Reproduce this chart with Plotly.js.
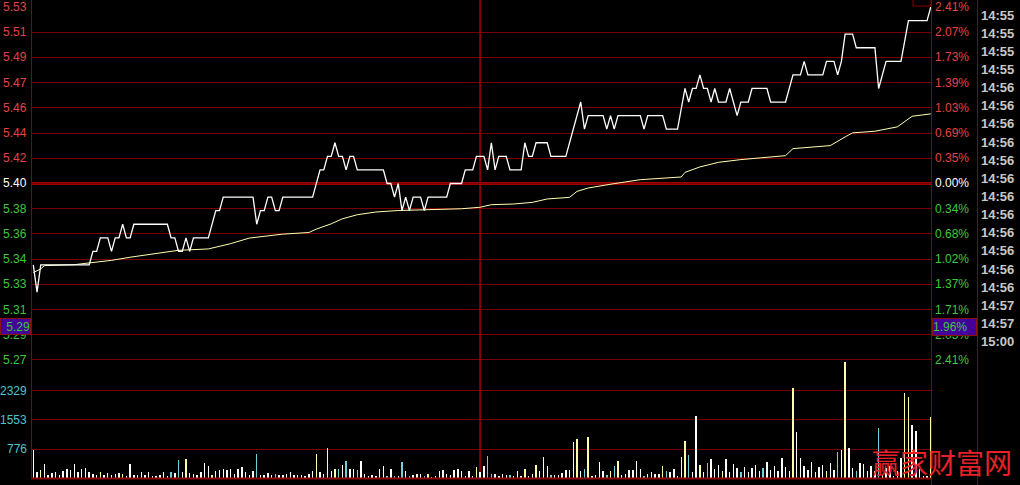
<!DOCTYPE html>
<html><head><meta charset="utf-8">
<script src="https://cdn.plot.ly/plotly-3.0.1.min.js"></script>
<style>html,body{margin:0;padding:0;background:#000;}#chart{width:1020px;height:485px;}</style>
</head><body><div id="chart"></div>
<script>
// ---------- DATA ----------
// minute index (0 = 09:30 ... 120 = 11:30/13:00 ... 241 = 15:00)
const priceT = [0,1,2,15,16,17,18,20,21,22,23,24,25,26,27,36,37,38,39,40,41,42,43,47,49,50,51,59,60,61,62,63,64,65,66,67,75,76,77,78,79,80,81,82,83,84,85,86,87,94,95,96,97,98,99,100,101,102,104,105,106,111,112,115,116,118,119,121,122,123,124,125,127,128,131,132,133,134,135,138,139,143,145,147,148,149,153,154,155,156,157,163,164,165,169,170,173,175,176,177,178,179,180,181,182,183,184,186,187,188,189,190,192,193,197,198,202,204,206,207,208,212,213,215,216,217,218,220,221,226,227,229,233,235,240,241];
const priceV = [5.34,5.32,5.34,5.34,5.35,5.35,5.36,5.36,5.35,5.36,5.36,5.37,5.36,5.36,5.37,5.37,5.36,5.36,5.35,5.35,5.36,5.35,5.36,5.36,5.38,5.38,5.39,5.39,5.37,5.38,5.38,5.39,5.39,5.38,5.38,5.39,5.39,5.40,5.41,5.41,5.42,5.42,5.43,5.42,5.42,5.41,5.42,5.42,5.41,5.41,5.40,5.40,5.39,5.40,5.38,5.39,5.38,5.39,5.39,5.38,5.39,5.39,5.40,5.40,5.41,5.41,5.42,5.42,5.41,5.43,5.41,5.42,5.42,5.41,5.41,5.43,5.42,5.42,5.43,5.43,5.42,5.42,5.44,5.46,5.44,5.45,5.45,5.44,5.45,5.44,5.45,5.45,5.44,5.45,5.45,5.44,5.44,5.47,5.46,5.47,5.47,5.48,5.47,5.47,5.46,5.47,5.46,5.46,5.47,5.46,5.45,5.46,5.46,5.47,5.47,5.46,5.46,5.48,5.48,5.49,5.48,5.48,5.49,5.49,5.48,5.49,5.51,5.51,5.50,5.50,5.47,5.49,5.49,5.52,5.52,5.53];
const avgT = [0,2,3,11,15,21,26,35,39,47,53,58,67,74,76,80,83,87,92,98,108,115,120,123,129,134,138,144,146,149,156,163,174,175,179,184,190,195,202,204,214,218,220,226,232,236,241];
const avgV = [5.3344,5.3371,5.3395,5.3402,5.3415,5.3434,5.3457,5.3489,5.3508,5.3518,5.3557,5.3598,5.3627,5.3639,5.3664,5.3703,5.3740,5.3770,5.3790,5.3801,5.3807,5.3814,5.3825,5.3844,5.3849,5.3861,5.3886,5.3898,5.3942,5.3967,5.3999,5.4028,5.4048,5.4082,5.4122,5.4156,5.4176,5.4190,5.4205,5.4257,5.4279,5.4343,5.4373,5.4385,5.4417,5.4495,5.4513];
const volValues = [
 739,161,223,384,89,134,161,89,178,250,
 205,384,152,250,277,161,107,89,161,89,
 134,89,116,134,107,45,384,71,89,161,
 89,161,62,62,89,161,62,152,134,491,
 161,518,134,107,71,161,402,330,89,196,
 223,241,205,250,116,241,294,161,89,196,
 651,89,89,134,89,107,71,71,107,161,
 71,89,89,62,107,178,651,161,116,803,
 196,250,250,357,446,250,250,223,464,116,
 62,89,62,250,330,62,250,62,62,419,
 178,62,89,116,116,62,116,40,62,178,
 223,116,89,223,250,196,62,178,62,286,
 150,312,580,116,116,62,116,89,89,62,
 196,62,250,62,116,357,196,553,312,89,
 89,89,134,205,223,955,1053,196,250,1089,
 62,89,419,178,89,196,312,446,89,116,
 205,223,446,250,62,116,152,116,116,330,
 196,161,250,62,553,999,625,152,1669,357,
 150,400,500,250,350,200,500,160,380,260,
 160,300,150,280,350,200,280,420,220,320,
 180,540,300,200,2400,1230,540,330,220,430,
 160,300,357,196,402,205,705,741,3105,803,
 268,196,402,375,178,312,178,1339,116,268,
 330,62,178,535,2275,2168,1428,1250,241,60,
 60,1633];
const volKinds = [
 'w','w','y','w','w','w','w','w','w','w',
 'w','w','w','w','w','w','w','w','y','w',
 'w','w','w','w','y','w','w','w','w','w',
 'w','w','w','w','w','w','w','c','w','c',
 'w','y','w','y','w','w','w','w','y','w',
 'w','w','w','w','w','w','w','w','w','w',
 'c','w','w','w','w','c','w','w','w','w',
 'w','w','w','w','w','w','y','w','y','y',
 'w','y','c','w','c','w','w','c','w','w',
 'w','w','w','w','w','c','w','c','w','c',
 'w','c','w','w','w','c','y','w','w','w',
 'w','w','w','w','w','w','w','w','w','y',
 'w','w','c','c','w','w','w','w','c','w',
 'w','w','y','w','w','y','w','w','w','c',
 'w','w','w','w','w','y','y','w','c','y',
 'w','w','w','w','c','y','c','y','w','w',
 'w','w','w','w','c','w','w','w','w','y',
 'c','w','w','w','y','y','c','w','w','y',
 'w','c','w','w','w','y','w','w','w','w',
 'c','w','w','w','w','w','c','w','w','w',
 'w','w','w','w','y','w','w','w','w','w',
 'w','w','w','y','w','w','c','w','y','w',
 'w','c','w','w','w','w','w','c','y','w',
 'w','w','w','w','y','y','w','w','w','w',
 'w','y'];
const prevClose = 5.40;
const priceTickLabels = ['5.53','5.51','5.49','5.47','5.46','5.44','5.42','5.40','5.38','5.36','5.34','5.33','5.31','5.29','5.27'];
const pctTickLabels = ['2.41%','2.07%','1.73%','1.39%','1.03%','0.69%','0.35%','0.00%','0.34%','0.68%','1.02%','1.37%','1.71%','2.05%','2.41%'];
const volTickVals = [776,1553,2329];
const volTickLabels = ['776','1553','2329'];
const tradeTimes = ['14:55','14:55','14:55','14:55','14:56','14:56','14:56','14:56','14:56','14:56','14:56','14:56','14:56','14:56','14:56','14:56','14:57','14:57','15:00'];
const cursorPriceLabel = '5.29';
const cursorPctLabel = '1.96%';
const watermark = '赢家财富网';

// ---------- STYLE ----------
const W = 1020, H = 485;
const py = p => 1 - p / H;   // pixel row -> paper y
const px = p => p / W;       // pixel col -> paper x
const GRID = '#7a0000';
const RED = '#e04444', GREEN = '#3cc83c', CYAN = '#4cc4cc';
const FONT = 'Liberation Sans, Arial, sans-serif';
const kindColor = {w:'#ffffff', y:'#ffffa8', c:'#70d0dc'};

const halfRange = 0.13;
const step = halfRange / 7;
const levels = priceTickLabels.map((_, i) => prevClose + (7 - i) * step);

const traces = [
  {x: volValues.map((_, i) => i), y: volValues, type: 'bar', xaxis: 'x', yaxis: 'y2',
   width: 0.38, marker: {color: volKinds.map(k => kindColor[k]), line: {width: 0}}, hoverinfo: 'skip'},
  {x: avgT, y: avgV, type: 'scatter', mode: 'lines', xaxis: 'x', yaxis: 'y',
   line: {color: '#ffffb0', width: 1}, hoverinfo: 'skip'},
  {x: priceT, y: priceV, type: 'scatter', mode: 'lines', xaxis: 'x', yaxis: 'y',
   line: {color: '#ffffff', width: 1.3}, hoverinfo: 'skip'}
];

const annotations = [];
priceTickLabels.forEach((t, i) => {
  const col = i < 7 ? RED : (i === 7 ? '#ffffff' : GREEN);
  annotations.push({xref: 'paper', yref: 'y', x: px(29), y: levels[i], xanchor: 'right', yanchor: 'middle',
    text: t, showarrow: false, font: {family: FONT, size: 12, color: col}});
});
pctTickLabels.forEach((t, i) => {
  const col = i < 7 ? RED : (i === 7 ? '#ffffff' : GREEN);
  annotations.push({xref: 'paper', yref: 'y', x: px(933), y: levels[i], xanchor: 'left', yanchor: 'middle',
    text: t, showarrow: false, font: {family: FONT, size: 12, color: col}});
});
volTickVals.forEach((v, i) => {
  annotations.push({xref: 'paper', yref: 'y2', x: px(29), y: v, xanchor: 'right', yanchor: 'middle',
    text: volTickLabels[i], showarrow: false, font: {family: FONT, size: 12, color: CYAN}});
});
tradeTimes.forEach((t, i) => {
  annotations.push({xref: 'paper', yref: 'paper', x: px(1016), y: py(15 + i * 18.15), xanchor: 'right', yanchor: 'middle',
    text: t, showarrow: false, font: {family: FONT, size: 13, color: '#c8c8c8', weight: 'bold'}});
});
annotations.push({xref: 'paper', yref: 'paper', x: px(1014), y: py(462), xanchor: 'right', yanchor: 'middle',
  text: watermark, showarrow: false, font: {family: 'Noto Sans CJK SC, sans-serif', size: 28, color: '#e8202a'}});
annotations.push({xref: 'paper', yref: 'paper', x: 0, y: py(318), xanchor: 'left', yanchor: 'top',
  text: cursorPriceLabel, showarrow: false, width: 29, height: 15, align: 'right', borderpad: 0,
  bgcolor: '#45009a', bordercolor: '#8a1010', borderwidth: 1, font: {family: FONT, size: 12, color: GREEN}});
annotations.push({xref: 'paper', yref: 'paper', x: px(932), y: py(318), xanchor: 'left', yanchor: 'top',
  text: cursorPctLabel, showarrow: false, width: 43, height: 16, align: 'left', borderpad: 0,
  bgcolor: '#45009a', bordercolor: '#8a1010', borderwidth: 1, font: {family: FONT, size: 12, color: GREEN}});

const shapes = [
  {type: 'line', xref: 'paper', yref: 'y', x0: px(31), x1: px(931), y0: prevClose, y1: prevClose, line: {color: '#a00000', width: 3}, layer: 'below'},
  {type: 'line', xref: 'paper', yref: 'y', x0: px(31), x1: px(931), y0: levels[14], y1: levels[14], line: {color: GRID, width: 2}, layer: 'below'},
  {type: 'line', xref: 'x', yref: 'paper', x0: 120, x1: 120, y0: py(478), y1: 1, line: {color: '#8a0000', width: 2}, layer: 'below'},
  {type: 'line', xref: 'paper', yref: 'paper', x0: px(31.5), x1: px(31.5), y0: py(478), y1: 1, line: {color: '#8a0000', width: 1}},
  {type: 'line', xref: 'paper', yref: 'paper', x0: px(931.5), x1: px(931.5), y0: 0, y1: 1, line: {color: '#8a0000', width: 1}},
  {type: 'line', xref: 'paper', yref: 'paper', x0: px(977.5), x1: px(977.5), y0: 0, y1: 1, line: {color: '#8a0000', width: 1}},
  {type: 'line', xref: 'paper', yref: 'paper', x0: px(31), x1: px(931), y0: py(478.5), y1: py(478.5), line: {color: '#8a0000', width: 2}},
  {type: 'rect', xref: 'paper', yref: 'paper', x0: px(913), x1: px(931), y0: py(6), y1: py(-2), line: {color: '#8a0000', width: 1}, fillcolor: 'rgba(0,0,0,0)'}
];

const layout = {
  width: W, height: H,
  margin: {l: 0, r: 0, t: 0, b: 0, pad: 0},
  paper_bgcolor: '#000', plot_bgcolor: '#000',
  showlegend: false, bargap: 0,
  xaxis: {domain: [px(32), px(932)], range: [-0.35, 241.33], showgrid: false, zeroline: false,
          showticklabels: false, ticks: '', showline: false, fixedrange: true},
  yaxis: {domain: [py(360), py(7)], range: [prevClose - halfRange, prevClose + halfRange], anchor: 'x',
          tickmode: 'array', tickvals: levels, showgrid: true, gridcolor: GRID, gridwidth: 1,
          zeroline: false, showticklabels: false, ticks: '', showline: false},
  yaxis2: {domain: [py(478), py(362)], range: [0, 3105], anchor: 'x',
          tickmode: 'array', tickvals: volTickVals, showgrid: true, gridcolor: GRID, gridwidth: 1,
          zeroline: false, showticklabels: false, ticks: '', showline: false},
  annotations: annotations,
  shapes: shapes
};

Plotly.newPlot('chart', traces, layout, {staticPlot: true, displayModeBar: false});
</script></body></html>
